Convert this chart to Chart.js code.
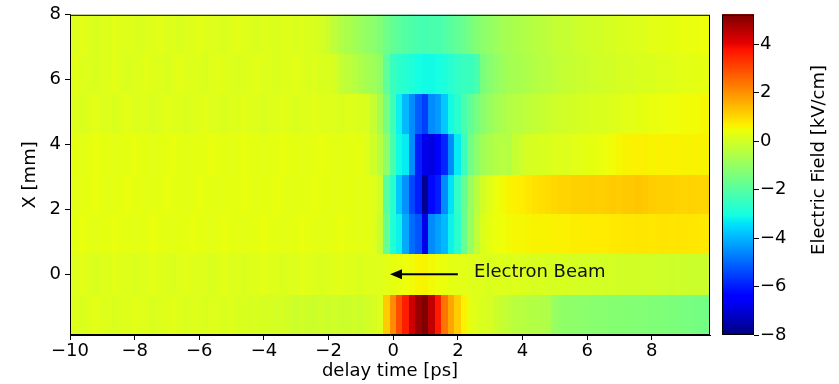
<!DOCTYPE html>
<html>
<head>
<meta charset="utf-8">
<script src="https://cdn.jsdelivr.net/npm/chart.js@4.4.1/dist/chart.umd.min.js"></script>
<style>
  html, body { margin: 0; padding: 0; background: #fff; }
</style>
</head>
<body>
<canvas id="fieldChart" width="839" height="384"></canvas>
<script>
// delay time axis: one column every 0.2 ps starting at -10 ps
const delayStart = -10
const delayStep = 0.2
// row edges along X [mm], top to bottom
const rowEdges = [8, 6.77, 5.53, 4.3, 3.06, 1.83, 0.6, -0.64, -1.87]

// electric field [kV/cm], one list per row (top to bottom), 100 columns each
const fieldRow0 = [0.17,0.17,0.24,0.17,0.11,0.17,0.17,0.24,0.17,0.17,
  0.17,0.11,0.17,0.17,0.24,0.17,0.17,0.11,0.17,0.17,
  0.24,0.17,0.17,0.17,0.11,0.17,0.24,0.17,0.17,0.11,
  0.17,0.17,0.11,0.17,0.17,0.11,0.17,0.11,0.11,0.0,
  -0.14,-0.33,-0.52,-0.65,-0.77,-0.9,-1.03,-1.15,-1.34,-1.59,
  -1.78,-1.91,-2.03,-2.16,-2.22,-2.29,-2.22,-2.22,-2.1,-1.97,
  -1.84,-1.66,-1.47,-1.28,-1.15,-1.03,-0.9,-0.77,-0.71,-0.65,
  -0.58,-0.52,-0.46,-0.4,-0.33,-0.27,-0.21,-0.21,-0.14,-0.08,
  -0.08,-0.02,-0.02,0.05,0.05,0.11,0.11,0.17,0.17,0.17,
  0.24,0.24,0.3,0.3,0.3,0.36,0.36,0.36,0.42,0.42]
const fieldRow1 = [0.17,0.24,0.17,0.17,0.11,0.17,0.17,0.24,0.17,0.11,
  0.17,0.17,0.24,0.17,0.17,0.11,0.17,0.24,0.17,0.17,
  0.17,0.11,0.17,0.24,0.17,0.17,0.11,0.17,0.17,0.24,
  0.17,0.17,0.11,0.17,0.17,0.24,0.17,0.11,0.17,0.11,
  0.11,0.05,-0.21,-0.33,-0.46,-0.58,-0.71,-0.84,-1.09,-1.84,
  -2.47,-2.66,-2.79,-2.92,-3.04,-3.1,-3.1,-3.04,-2.92,-2.79,
  -2.6,-2.47,-2.47,-2.22,-1.47,-1.21,-1.03,-0.9,-0.77,-0.71,
  -0.65,-0.58,-0.52,-0.46,-0.4,-0.33,-0.27,-0.21,-0.21,-0.14,
  -0.14,-0.08,-0.08,-0.02,-0.02,0.05,0.05,0.05,0.11,0.11,
  0.11,0.17,0.17,0.17,0.24,0.24,0.24,0.3,0.3,0.3]
const fieldRow2 = [0.17,0.17,0.11,0.17,0.24,0.17,0.17,0.11,0.17,0.24,
  0.17,0.17,0.17,0.11,0.17,0.24,0.17,0.17,0.11,0.17,
  0.17,0.24,0.17,0.17,0.11,0.17,0.17,0.24,0.17,0.17,
  0.11,0.17,0.17,0.24,0.17,0.11,0.17,0.17,0.24,0.17,
  0.17,0.17,0.11,0.17,0.17,0.11,0.11,-0.21,-0.71,-1.47,
  -2.35,-3.2,-3.95,-4.55,-5.15,-5.55,-4.55,-4.35,-3.75,-3.1,
  -2.73,-2.22,-1.84,-1.47,-1.21,-0.96,-0.77,-0.65,-0.52,-0.46,
  -0.4,-0.33,-0.27,-0.21,-0.14,-0.08,-0.08,-0.02,-0.02,0.05,
  0.05,0.11,0.11,0.11,0.17,0.17,0.24,0.24,0.3,0.3,
  0.36,0.36,0.42,0.42,0.42,0.49,0.49,0.49,0.55,0.55]
const fieldRow3 = [0.3,0.3,0.24,0.3,0.36,0.3,0.3,0.24,0.3,0.3,
  0.36,0.3,0.3,0.24,0.3,0.3,0.36,0.3,0.24,0.3,
  0.3,0.3,0.36,0.3,0.3,0.24,0.3,0.36,0.3,0.3,
  0.24,0.3,0.3,0.36,0.3,0.3,0.24,0.3,0.3,0.36,
  0.3,0.3,0.24,0.3,0.3,0.3,0.17,-0.08,-0.46,-1.09,
  -2.22,-3.1,-3.3,-4.55,-5.97,-6.78,-6.88,-6.38,-5.87,-4.55,
  -3.3,-2.47,-1.59,-1.15,-0.84,-0.65,-0.52,-0.46,-0.52,-0.21,
  -0.08,0.05,0.05,0.11,0.11,0.17,0.17,0.17,0.24,0.24,
  0.3,0.3,0.36,0.42,0.49,0.55,0.6,0.63,0.63,0.66,
  0.6,0.63,0.63,0.6,0.63,0.6,0.6,0.63,0.6,0.6]
const fieldRow4 = [0.3,0.24,0.3,0.3,0.36,0.3,0.24,0.3,0.3,0.36,
  0.3,0.3,0.24,0.3,0.3,0.36,0.3,0.3,0.24,0.3,
  0.36,0.3,0.3,0.24,0.3,0.3,0.3,0.36,0.3,0.24,
  0.3,0.3,0.36,0.3,0.24,0.3,0.3,0.3,0.36,0.3,
  0.3,0.24,0.3,0.3,0.3,0.24,0.3,0.17,-0.08,-1.97,
  -2.73,-3.75,-4.45,-5.46,-5.97,-7.8,-6.27,-5.97,-4.55,-3.43,
  -2.6,-1.72,-0.96,-0.46,-0.02,0.2,0.4,0.5,0.6,0.65,
  0.7,0.78,0.85,0.9,0.95,1.0,1.05,1.05,1.1,1.1,
  1.12,1.15,1.12,1.15,1.18,1.15,1.2,1.22,1.25,1.2,
  1.15,1.12,1.1,1.12,1.08,1.05,1.08,1.05,1.02,1.05]
const fieldRow5 = [0.3,0.3,0.36,0.3,0.24,0.3,0.3,0.36,0.3,0.3,
  0.24,0.3,0.3,0.36,0.3,0.3,0.24,0.3,0.3,0.36,
  0.3,0.3,0.24,0.3,0.36,0.3,0.3,0.24,0.3,0.3,
  0.36,0.3,0.3,0.24,0.3,0.3,0.36,0.3,0.3,0.24,
  0.3,0.3,0.36,0.3,0.3,0.24,0.3,0.17,-0.21,-1.72,
  -2.85,-3.2,-4.15,-4.95,-5.25,-6.78,-4.55,-4.25,-3.95,-3.2,
  -2.73,-1.72,-0.96,-0.33,0.11,0.3,0.4,0.45,0.5,0.55,
  0.55,0.58,0.6,0.6,0.62,0.63,0.65,0.65,0.68,0.68,
  0.7,0.7,0.72,0.72,0.75,0.75,0.78,0.78,0.8,0.8,
  0.78,0.8,0.82,0.8,0.82,0.8,0.78,0.78,0.75,0.75]
const fieldRow6 = [0.17,0.17,0.24,0.17,0.11,0.17,0.17,0.24,0.17,0.17,
  0.11,0.17,0.17,0.24,0.17,0.17,0.11,0.17,0.24,0.17,
  0.17,0.17,0.11,0.17,0.24,0.17,0.17,0.11,0.17,0.17,
  0.24,0.17,0.17,0.11,0.17,0.17,0.24,0.17,0.17,0.11,
  0.17,0.17,0.24,0.17,0.17,0.11,0.17,0.17,0.17,0.24,
  0.3,0.36,0.42,0.5,0.58,0.6,0.5,0.42,0.36,0.3,
  0.24,0.24,0.17,0.17,0.17,0.11,0.17,0.17,0.11,0.17,
  0.11,0.11,0.05,0.11,0.05,0.05,0.11,0.05,0.05,0.0,
  0.05,0.0,0.0,-0.02,0.0,-0.02,-0.05,-0.02,-0.05,-0.08,
  -0.05,-0.08,-0.08,-0.1,-0.08,-0.1,-0.12,-0.1,-0.12,-0.14]
const fieldRow7 = [0.17,0.17,0.11,0.17,0.24,0.17,0.17,0.11,0.17,0.17,
  0.24,0.17,0.17,0.11,0.17,0.17,0.24,0.17,0.11,0.17,
  0.17,0.11,0.17,0.17,0.11,0.17,0.11,0.11,0.05,0.11,
  0.05,0.05,0.0,0.05,-0.05,-0.1,-0.05,-0.1,-0.1,-0.05,
  -0.1,-0.05,-0.1,-0.1,-0.05,-0.1,-0.05,0.05,0.17,1.16,
  2.05,2.94,3.6,4.33,4.9,5.2,4.47,3.66,2.41,1.7,
  1.16,0.63,0.3,0.17,0.11,0.05,-0.1,-0.2,-0.3,-0.4,
  -0.45,-0.5,-0.5,-0.55,-0.6,-0.95,-1.05,-1.1,-1.1,-1.15,
  -1.15,-1.2,-1.2,-1.2,-1.25,-1.25,-1.25,-1.3,-1.3,-1.3,
  -1.35,-1.35,-1.35,-1.4,-1.4,-1.45,-1.45,-1.5,-1.5,-1.55]

const fieldRows = [fieldRow0, fieldRow1, fieldRow2, fieldRow3, fieldRow4, fieldRow5, fieldRow6, fieldRow7]

const xTicks = [-10, -8, -6, -4, -2, 0, 2, 4, 6, 8]
const yTicks = [0, 2, 4, 6, 8]
const colorbarTicks = [-8, -6, -4, -2, 0, 2, 4]
const fieldMin = -8
const fieldMax = 5.2

// matplotlib 'jet'
const jetSegments = {
  r: [[0, 0], [0.35, 0], [0.66, 1], [0.89, 1], [1, 0.5]],
  g: [[0, 0], [0.125, 0], [0.375, 1], [0.64, 1], [0.91, 0], [1, 0]],
  b: [[0, 0.5], [0.11, 1], [0.34, 1], [0.65, 0], [1, 0]]
}

function segValue(seg, t) {
  for (let i = 1; i < seg.length; i++) {
    if (t <= seg[i][0]) {
      const [t0, v0] = seg[i - 1]
      const [t1, v1] = seg[i]
      return v0 + (v1 - v0) * (t - t0) / (t1 - t0)
    }
  }
  return seg[seg.length - 1][1]
}

function jet(value) {
  const t = Math.min(1, Math.max(0, (value - fieldMin) / (fieldMax - fieldMin)))
  const r = Math.round(255 * segValue(jetSegments.r, t))
  const g = Math.round(255 * segValue(jetSegments.g, t))
  const b = Math.round(255 * segValue(jetSegments.b, t))
  return `rgb(${r},${g},${b})`
}

const minusSign = (v) => String(v).replace('-', '\u2212')

const heatmapPlugin = {
  id: 'heatmap',
  beforeDatasetsDraw(chart) {
    const { ctx, chartArea, scales: { x, y } } = chart
    ctx.save()
    ctx.beginPath()
    ctx.rect(chartArea.left, chartArea.top, chartArea.width, chartArea.height)
    ctx.clip()
    fieldRows.forEach((row, r) => {
      const yTop = Math.floor(y.getPixelForValue(rowEdges[r]))
      const yBot = Math.ceil(y.getPixelForValue(rowEdges[r + 1]))
      row.forEach((value, i) => {
        const t = delayStart + delayStep * i
        const x0 = Math.floor(x.getPixelForValue(t - delayStep / 2))
        const x1 = Math.ceil(x.getPixelForValue(t + delayStep / 2))
        ctx.fillStyle = jet(value)
        ctx.fillRect(x0, yTop, x1 - x0, yBot - yTop)
      })
    })
    ctx.restore()
  },
  afterDatasetsDraw(chart) {
    const { ctx, chartArea, scales: { x, y } } = chart
    // arrow + label
    const yPix = y.getPixelForValue(0)
    const tip = x.getPixelForValue(-0.1)
    const tail = x.getPixelForValue(2.0)
    ctx.save()
    ctx.strokeStyle = '#000'
    ctx.fillStyle = '#000'
    ctx.lineWidth = 2
    ctx.beginPath()
    ctx.moveTo(tip + 8, yPix)
    ctx.lineTo(tail, yPix)
    ctx.stroke()
    ctx.beginPath()
    ctx.moveTo(tip, yPix)
    ctx.lineTo(tip + 12, yPix - 5)
    ctx.lineTo(tip + 12, yPix + 5)
    ctx.closePath()
    ctx.fill()
    ctx.font = '18px "DejaVu Sans"'
    ctx.fillStyle = '#111'
    ctx.textBaseline = 'middle'
    ctx.textAlign = 'left'
    ctx.fillText('Electron Beam', x.getPixelForValue(2.5), yPix - 2)
    // frame
    ctx.lineWidth = 1
    ctx.strokeStyle = '#000'
    ctx.strokeRect(chartArea.left + 0.5, chartArea.top + 0.5, chartArea.width - 1, chartArea.height - 1)
    ctx.restore()
  },
  afterDraw(chart) {
    const { ctx, chartArea, scales: { cb } } = chart
    const left = chartArea.right + 12
    const width = 32
    const top = cb.getPixelForValue(fieldMax)
    const bottom = cb.getPixelForValue(fieldMin)
    ctx.save()
    for (let py = Math.floor(top); py < Math.ceil(bottom); py++) {
      ctx.fillStyle = jet(cb.getValueForPixel(py + 0.5))
      ctx.fillRect(left, py, width, 1)
    }
    ctx.strokeStyle = '#000'
    ctx.lineWidth = 1
    ctx.strokeRect(left + 0.5, Math.round(top) + 0.5, width - 1, Math.round(bottom - top) - 1)
    colorbarTicks.forEach((v) => {
      const py = Math.round(cb.getPixelForValue(v)) + 0.5
      ctx.beginPath()
      ctx.moveTo(left + width, py)
      ctx.lineTo(left + width + 5, py)
      ctx.stroke()
    })
    ctx.translate(819, 160)
    ctx.rotate(-Math.PI / 2)
    ctx.font = '18px "DejaVu Sans"'
    ctx.fillStyle = '#000'
    ctx.textAlign = 'center'
    ctx.textBaseline = 'middle'
    ctx.fillText('Electric Field [kV/cm]', 0, 0)
    ctx.restore()
  }
}

Chart.defaults.font.family = '"DejaVu Sans", sans-serif'
Chart.defaults.font.size = 18
Chart.defaults.color = '#000'

const tickGrid = { drawOnChartArea: false, drawTicks: true, tickLength: 5, color: '#000' }

new Chart(document.getElementById('fieldChart'), {
  type: 'scatter',
  data: { datasets: [{ data: [] }] },
  options: {
    responsive: false,
    animation: false,
    devicePixelRatio: 1,
    layout: { padding: { top: 13, left: 0, right: 0, bottom: 0 } },
    plugins: { legend: { display: false }, tooltip: { enabled: false } },
    scales: {
      x: {
        type: 'linear',
        position: 'bottom',
        min: -10,
        max: 9.8,
        afterBuildTicks: (s) => { s.ticks = xTicks.map((v) => ({ value: v })) },
        afterFit: (s) => { s.height = 49 },
        grid: tickGrid,
        border: { display: true, color: '#000' },
        ticks: { padding: 1, maxRotation: 0, autoSkip: false, callback: minusSign },
        title: { display: true, text: 'delay time [ps]', padding: { top: 2, bottom: 2 } }
      },
      y: {
        type: 'linear',
        position: 'left',
        min: -1.87,
        max: 8,
        afterBuildTicks: (s) => { s.ticks = yTicks.map((v) => ({ value: v })) },
        afterFit: (s) => { s.width = 70 },
        grid: tickGrid,
        border: { display: true, color: '#000' },
        ticks: { padding: 4, autoSkip: false, callback: minusSign },
        title: { display: true, text: 'X [mm]', padding: { top: 20, bottom: 0 } }
      },
      cb: {
        type: 'linear',
        position: 'right',
        min: fieldMin,
        max: fieldMax,
        afterBuildTicks: (s) => { s.ticks = colorbarTicks.map((v) => ({ value: v })) },
        afterFit: (s) => { s.width = 129; s.paddingTop = 0; s.paddingBottom = 0 },
        grid: { display: false, drawTicks: true, tickLength: 46 },
        border: { display: false },
        ticks: { padding: 4, autoSkip: false, callback: minusSign }
      }
    }
  },
  plugins: [heatmapPlugin]
})
</script>
</body>
</html>
